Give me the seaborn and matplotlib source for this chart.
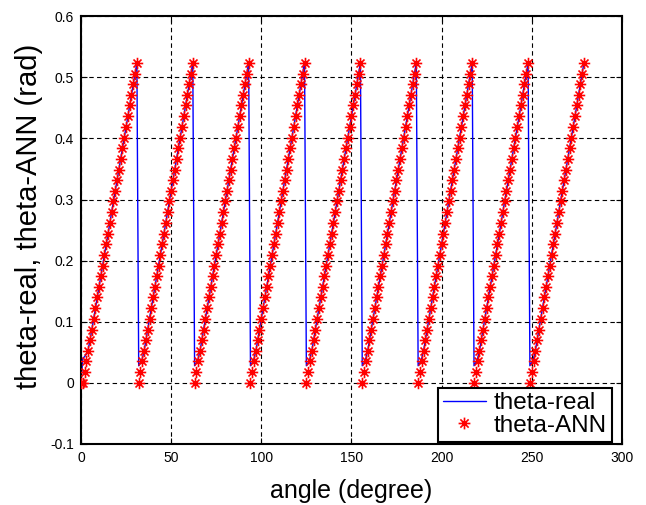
import numpy as np
import pandas as pd
import matplotlib
matplotlib.use('Agg')
import matplotlib.pyplot as plt
from matplotlib.path import Path
from matplotlib.lines import Line2D
import seaborn as sns

# one ramp of the sawtooth (rad), 1 degree per sample
ramp_ann = [0.000, 0.017, 0.035, 0.052, 0.070, 0.087, 0.105, 0.122, 0.140, 0.157,
            0.175, 0.192, 0.209, 0.227, 0.244, 0.262, 0.279, 0.297, 0.314, 0.332,
            0.349, 0.367, 0.384, 0.401, 0.419, 0.436, 0.454, 0.471, 0.489, 0.506,
            0.524]
# theta-real ramp differs only at its foot
ramp_real = [0.028, 0.033, 0.040] + ramp_ann[3:]
first_real = [0.040, 0.043, 0.047, 0.055] + ramp_ann[4:]
n_teeth = 9

theta_ann = [0.0] + ramp_ann * n_teeth
theta_real = [0.0] + first_real + ramp_real * (n_teeth - 1)
angle = np.arange(len(theta_ann))  # sample angle, degree

x_ticks = [0, 50, 100, 150, 200, 250, 300]
y_ticks = [-0.1, 0, 0.1, 0.2, 0.3, 0.4, 0.5, 0.6]
y_tick_labels = ['-0.1', '0', '0.1', '0.2', '0.3', '0.4', '0.5', '0.6']

df = pd.DataFrame({'angle': angle, 'theta_real': theta_real, 'theta_ann': theta_ann})

sns.set_theme(style='white')
plt.rcParams['font.family'] = ['Liberation Sans', 'DejaVu Sans']
plt.rcParams['text.color'] = 'black'
plt.rcParams['axes.labelcolor'] = 'black'

fig = plt.figure(figsize=(6.46, 5.05), dpi=100)
ax = fig.add_axes([0.1254, 0.1208, 0.8372, 0.8472])

# matlab style asterisk
star = Path([(-1, 0), (1, 0), (0, -1), (0, 1), (-0.7, -0.7), (0.7, 0.7), (-0.7, 0.7), (0.7, -0.7)],
            [Path.MOVETO, Path.LINETO] * 4)

sns.lineplot(data=df, x='angle', y='theta_real', color='#0000ff', linewidth=1.0,
             estimator=None, sort=False, ax=ax)
sns.scatterplot(data=df, x='angle', y='theta_ann', marker=star, s=68, color='#ff0000',
                edgecolor='#ff0000', linewidth=1.2, zorder=3, ax=ax)

ax.set_xlim(0, 300)
ax.set_ylim(-0.1, 0.6)
ax.set_xticks(x_ticks)
ax.set_yticks(y_ticks)
ax.set_yticklabels(y_tick_labels)
ax.tick_params(direction='in', length=4, width=0.8, colors='black', labelsize=10,
               top=True, right=True, bottom=True, left=True, pad=5)
ax.grid(True, color='black', linestyle=(0, (4, 3)), linewidth=0.8)
for s in ax.spines.values():
    s.set_color('black')
    s.set_linewidth(1.5)

ax.set_xlabel('angle (degree)', fontsize=18, labelpad=10)
ax.set_ylabel('theta-real, theta-ANN (rad)', fontsize=21)
ax.yaxis.set_label_coords(-0.07, 0.533)

handles = [Line2D([], [], color='#0000ff', linewidth=1.0),
           Line2D([], [], linestyle='', marker=star, markersize=8.5, color='#ff0000',
                  markeredgewidth=1.2)]
leg = ax.legend(handles, ['theta-real', 'theta-ANN'], loc='lower right',
                bbox_to_anchor=(0.982, 0.005), fontsize=17.5, frameon=True, fancybox=False,
                borderaxespad=0, handlelength=1.75, handletextpad=0.35, borderpad=0.2,
                labelspacing=0.02, framealpha=1)
leg.get_frame().set_edgecolor('black')
leg.get_frame().set_linewidth(1.5)

fig.savefig('out.png', dpi=100, facecolor='white')
